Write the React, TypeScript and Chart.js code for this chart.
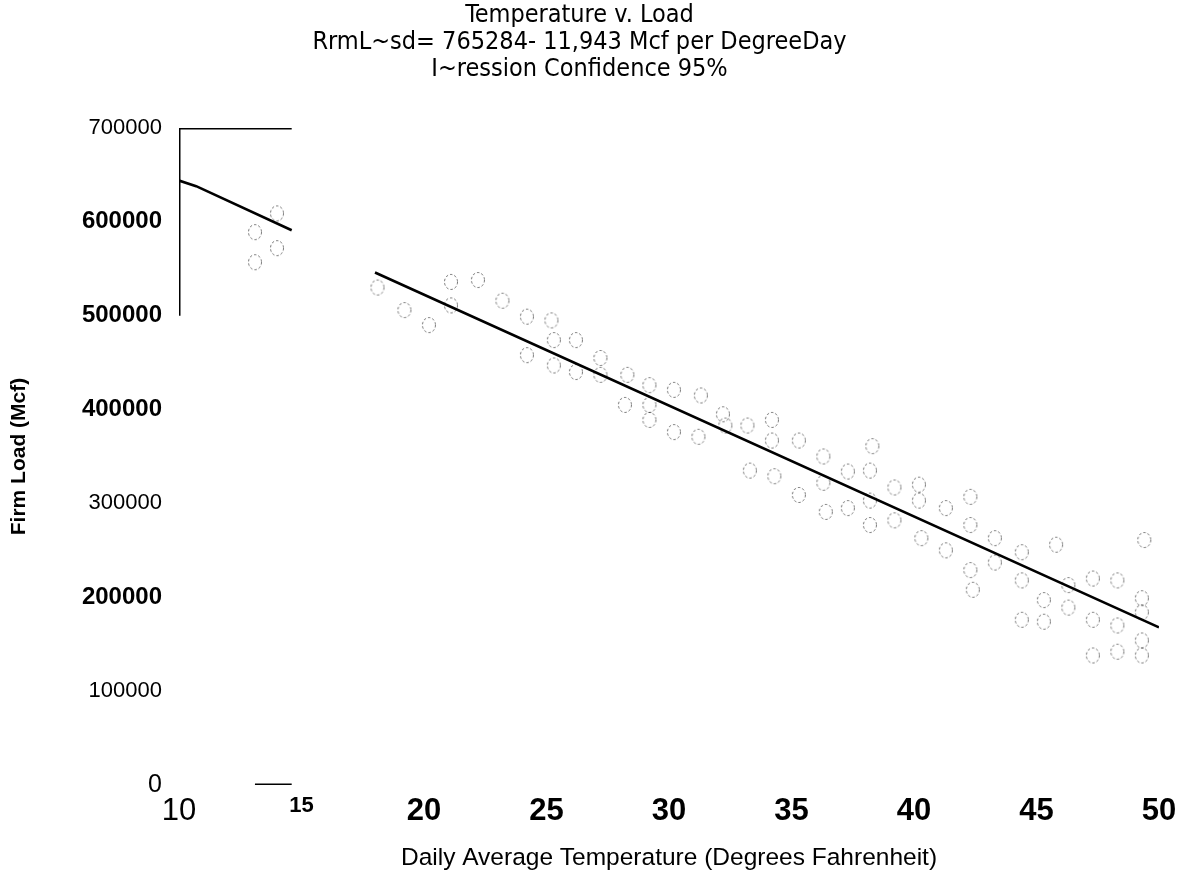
import React, { useEffect, useRef } from "react";
import { Chart, registerables } from "chart.js";

Chart.register(...registerables);

// Title lines (as printed on the scanned page)
const titleLines = [
  "Temperature v. Load",
  "RrmL~sd= 765284- 11,943 Mcf per DegreeDay",
  "I~ression Confidence 95%",
];
const xAxisTitle = "Daily Average Temperature (Degrees Fahrenheit)";
const yAxisTitle = "Firm Load (Mcf)";

// Observations: daily average temperature (°F) and firm load (Mcf)
const obsTemp = [
  13.1, 13.1, 14.0, 14.0, 18.1, 19.2, 20.2, 21.1, 22.2, 21.1,
  23.2, 24.2, 25.2, 24.2, 25.3, 25.3, 26.2, 26.2, 27.2, 27.2,
  28.3, 28.2, 29.2, 29.2, 30.2, 30.2, 31.2, 31.3, 32.3, 33.2,
  33.3, 34.2, 34.2, 34.3, 35.3, 35.3, 36.3, 36.3, 36.4, 37.3,
  37.3, 38.3, 38.2, 38.2, 38.2, 39.2, 39.2, 40.2, 40.2, 40.3,
  41.3, 41.3, 42.3, 42.3, 42.3, 42.4, 43.3, 43.3, 44.4, 44.4,
  44.4, 45.3, 45.3, 45.8, 46.3, 46.3, 47.3, 47.3, 47.3, 48.3,
  48.3, 48.3, 49.3, 49.3, 49.3, 49.3, 49.4, 29.2, 32.2,
];
const obsLoad = [
  589000, 557000, 609000, 572000, 530000, 506000, 490000, 536000, 538000, 511000,
  516000, 499000, 495000, 458000, 474000, 447000, 474000, 440000, 455000, 437000,
  437000, 405000, 426000, 389000, 421000, 376000, 371000, 415000, 383000, 383000,
  335000, 389000, 367000, 329000, 367000, 309000, 350000, 322000, 291000, 334000,
  295000, 361000, 335000, 303000, 277000, 317000, 282000, 320000, 303000, 263000,
  295000, 250000, 307000, 277000, 229000, 208000, 263000, 237000, 248000, 218000,
  176000, 197000, 174000, 256000, 213000, 189000, 220000, 176000, 138000, 218000,
  170000, 142000, 199000, 184000, 154000, 138000, 261000, 405000, 395000,
];

// Regression line as traced (broken in the scan between ~14.6 and ~18)
const fitTemp = [10, 10.7, 14.6, 16, 18.0, 50.0];
const fitLoad: (number | null)[] = [644000, 638000, 591000, null, 546000, 168000];

// Surviving fragments of the plot frame
const frameTopTemp = [10, 14.6];
const frameTopLoad = [700000, 700000];
const frameLeftTemp = [10, 10];
const frameLeftLoad = [700000, 500000];
const frameBottomTemp = [13.1, 14.6];
const frameBottomLoad = [0, 0];

// Axis ranges / ticks
const xMin = 10, xMax = 50, xStep = 5;
const yMin = 0, yMax = 700000, yStep = 100000;
const xBoldTicks = [15, 20, 25, 30, 35, 40, 45, 50];
const yBoldTicks = [600000, 500000, 400000, 200000];

const FONT = "'Liberation Sans', Arial, Helvetica, sans-serif";
const NARROW = "'Liberation Sans Narrow', 'Arial Narrow', 'DejaVu Sans Condensed', 'Liberation Sans', sans-serif";

const zip = (xs: number[], ys: (number | null)[]) => xs.map((x, i) => ({ x, y: ys[i] }));

// Dashed open-circle marker (the scanned circles are broken/dotted)
function makeDashedCircle(): HTMLCanvasElement {
  const c = document.createElement("canvas");
  c.width = 18;
  c.height = 18;
  const g = c.getContext("2d");
  if (g) {
    g.strokeStyle = "rgba(0,0,0,0.55)";
    g.lineWidth = 1;
    g.setLineDash([2.5, 2]);
    g.beginPath();
    g.ellipse(9, 9, 6.5, 7.5, 0, 0, Math.PI * 2);
    g.stroke();
  }
  return c;
}

export default function App() {
  const ref = useRef<HTMLCanvasElement | null>(null);

  useEffect(() => {
    if (!ref.current) return;
    const marker = makeDashedCircle();
    const frameStyle = {
      type: "line" as const,
      borderColor: "#000",
      borderWidth: 3,
      pointRadius: 0,
      showLine: true,
      fill: false,
    };
    const chart = new Chart(ref.current, {
      type: "scatter",
      data: {
        datasets: [
          {
            label: "Observed",
            data: zip(obsTemp, obsLoad),
            pointStyle: marker,
            pointRadius: 8,
            borderColor: "rgba(0,0,0,0.5)",
            backgroundColor: "rgba(0,0,0,0)",
          },
          {
            label: "Regression",
            type: "line",
            data: zip(fitTemp, fitLoad),
            borderColor: "#000",
            borderWidth: 2.6,
            pointRadius: 0,
            spanGaps: false,
            fill: false,
          },
          { label: "frameTop", data: zip(frameTopTemp, frameTopLoad), ...frameStyle },
          { label: "frameLeft", data: zip(frameLeftTemp, frameLeftLoad), ...frameStyle },
          { label: "frameBottom", data: zip(frameBottomTemp, frameBottomLoad), ...frameStyle },
        ],
      } as any,
      options: {
        animation: false,
        responsive: false,
        layout: { padding: { left: 0, right: 41, top: 0, bottom: 0 } },
        plugins: {
          legend: { display: false },
          tooltip: { enabled: false },
          title: {
            display: true,
            text: titleLines,
            color: "#000",
            font: { family: NARROW, size: 25, weight: "normal", lineHeight: 1.08 },
            padding: { top: 2, bottom: 45 },
          },
        },
        scales: {
          x: {
            type: "linear",
            min: xMin,
            max: xMax,
            border: { display: false },
            grid: { display: false, drawTicks: false },
            ticks: {
              stepSize: xStep,
              padding: 8,
              color: "#000",
              callback: (v: any) => String(v),
              font: (ctx: any) => {
                const v = ctx.tick ? ctx.tick.value : 0;
                if (v === 15) return { family: FONT, size: 22, weight: "bold" };
                return {
                  family: FONT,
                  size: 31,
                  weight: xBoldTicks.includes(v) ? "bold" : "normal",
                };
              },
            },
            title: {
              display: true,
              text: xAxisTitle,
              color: "#000",
              font: { family: FONT, size: 24.5, weight: "normal" },
              padding: { top: 0, bottom: 8 },
            },
            afterFit: (scale: any) => {
              scale.height = 96;
            },
          },
          y: {
            type: "linear",
            min: yMin,
            max: yMax,
            border: { display: false },
            grid: { display: false, drawTicks: false },
            ticks: {
              stepSize: yStep,
              padding: 17,
              color: "#000",
              callback: (v: any) => String(v),
              font: (ctx: any) => {
                const v = ctx.tick ? ctx.tick.value : 0;
                if (v === 0) return { family: FONT, size: 25, weight: "normal" };
                const bold = yBoldTicks.includes(v);
                return { family: FONT, size: bold ? 24 : 22, weight: bold ? "bold" : "normal" };
              },
            },
            title: {
              display: true,
              text: yAxisTitle,
              color: "#000",
              font: { family: FONT, size: 21, weight: "bold" },
              padding: { top: 7, bottom: 0 },
            },
            afterFit: (scale: any) => {
              scale.width = 179;
            },
          },
        },
      } as any,
    });
    return () => chart.destroy();
  }, []);

  return (
    <div style={{ position: "fixed", left: 0, top: 0, width: 1200, height: 881, background: "#fff" }}>
      <canvas ref={ref} width={1200} height={881} style={{ display: "block" }} />
    </div>
  );
}
